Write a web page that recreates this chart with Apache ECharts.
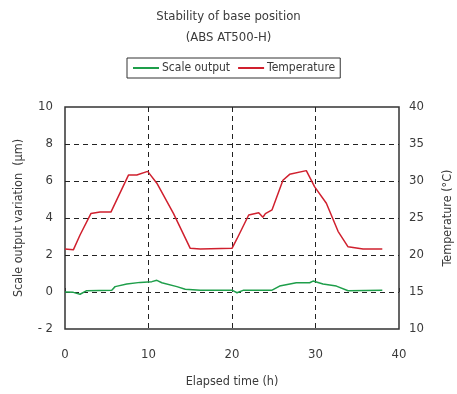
<!DOCTYPE html>
<html><head><meta charset="utf-8">
<script src="https://cdn.jsdelivr.net/npm/echarts@6/dist/echarts.min.js"></script>
<style>html,body{margin:0;padding:0;background:#fff}#c{width:457px;height:394px}</style>
</head><body><div id="c"></div>
<script>
var titleText = 'Stability of base position\n(ABS AT500-H)';
var seriesNames = ['Scale output', 'Temperature'];
var xTicks = [0, 10, 20, 30, 40];
var scaleTime = [0, 1.0, 1.8, 2.6, 5.6, 6.0, 7.4, 9.0, 10.4, 11.0, 11.6, 13.4, 14.4, 16.2, 20.0, 20.6, 21.4, 24.8, 25.7, 27.7, 29.3, 29.7, 30.9, 32.5, 33.9, 38.0];
var scaleValue = [0.0, -0.02, -0.12, 0.07, 0.1, 0.29, 0.43, 0.52, 0.56, 0.63, 0.5, 0.29, 0.15, 0.1, 0.1, -0.04, 0.1, 0.1, 0.32, 0.5, 0.5, 0.59, 0.43, 0.32, 0.07, 0.1];
var tempTime = [0, 1.0, 1.8, 3.1, 4.2, 5.5, 7.6, 8.6, 9.9, 11.0, 13.0, 15.0, 16.2, 20.0, 20.6, 22.0, 23.2, 23.7, 24.0, 24.8, 26.1, 26.9, 28.9, 29.9, 31.3, 32.7, 33.9, 35.7, 38.0];
var tempValue = [20.8, 20.7, 22.7, 25.6, 25.8, 25.8, 30.8, 30.8, 31.3, 29.7, 25.6, 20.9, 20.8, 20.9, 22.2, 25.4, 25.7, 25.1, 25.6, 26.1, 30.1, 30.9, 31.4, 29.2, 27.0, 23.2, 21.1, 20.8, 20.8];

function pairs(t, v) { return t.map(function (x, i) { return [x, v[i]]; }); }
var FONT = '"Liberation Sans Narrow","DejaVu Sans Condensed","Roboto",sans-serif';
var TXT = '#3a3a3a';
var chart = echarts.init(document.getElementById('c'), null, {renderer: 'canvas'});
chart.setOption({
  animation: false,
  textStyle: {fontFamily: FONT},
  title: {
    text: titleText, left: 'center', top: 1,
    textStyle: {fontFamily: FONT, fontSize: 13, fontWeight: 'normal', color: TXT, lineHeight: 21}
  },
  legend: {
    data: seriesNames, top: 58, left: 127,
    padding: [4, 5, 4, 6], borderColor: '#333', borderWidth: 1,
    itemGap: 8, itemWidth: 26, itemHeight: 2, icon: 'rect',
    textStyle: {fontFamily: FONT, fontSize: 12, color: TXT, padding: [0, 0, 0, -2]}
  },
  grid: {left: 65, right: 58, top: 107, bottom: 65, show: true, borderColor: '#333', borderWidth: 1.5, backgroundColor: 'transparent', outerBoundsMode: 'none', containLabel: false},
  xAxis: {
    type: 'value', min: 0, max: 40, interval: 10,
    name: 'Elapsed time (h)', nameLocation: 'middle', nameGap: 46,
    nameTextStyle: {fontFamily: FONT, fontSize: 12.5, color: TXT},
    axisLine: {show: false},
    axisTick: {show: true, inside: true, length: 4, lineStyle: {color: '#333'}},
    axisLabel: {margin: 19, fontFamily: FONT, fontSize: 13, color: TXT,
      customValues: xTicks},
    splitLine: {show: true, showMinLine: false, showMaxLine: false, lineStyle: {color: '#222', type: [5, 4], width: 1}}
  },
  yAxis: [{
    type: 'value', min: -2, max: 10, interval: 2,
    name: 'Scale output variation  (μm)', nameLocation: 'middle', nameGap: 40,
    nameTextStyle: {fontFamily: FONT, fontSize: 12.5, color: TXT},
    axisLine: {show: false}, axisTick: {show: false},
    axisLabel: {margin: 12, fontFamily: FONT, fontSize: 13, color: TXT,
      formatter: function (v) { return v < 0 ? '- ' + Math.abs(v) : String(v); }},
    splitLine: {show: true, showMinLine: false, showMaxLine: false, lineStyle: {color: '#222', type: [5, 4], width: 1}}
  }, {
    type: 'value', min: 10, max: 40, interval: 5, position: 'right',
    name: 'Temperature (°C)', nameLocation: 'middle', nameGap: 42,
    nameTextStyle: {fontFamily: FONT, fontSize: 12.5, color: TXT},
    axisLine: {show: false}, axisTick: {show: false},
    axisLabel: {margin: 10, fontFamily: FONT, fontSize: 13, color: TXT},
    splitLine: {show: false}
  }],
  series: [{
    name: seriesNames[0], type: 'line', yAxisIndex: 0, showSymbol: false, symbol: 'none',
    data: pairs(scaleTime, scaleValue),
    lineStyle: {color: '#1e9e4a', width: 1.5}, itemStyle: {color: '#1e9e4a'}
  }, {
    name: seriesNames[1], type: 'line', yAxisIndex: 1, showSymbol: false, symbol: 'none',
    data: pairs(tempTime, tempValue),
    lineStyle: {color: '#d0202e', width: 1.5}, itemStyle: {color: '#d0202e'}
  }]
});
</script></body></html>
